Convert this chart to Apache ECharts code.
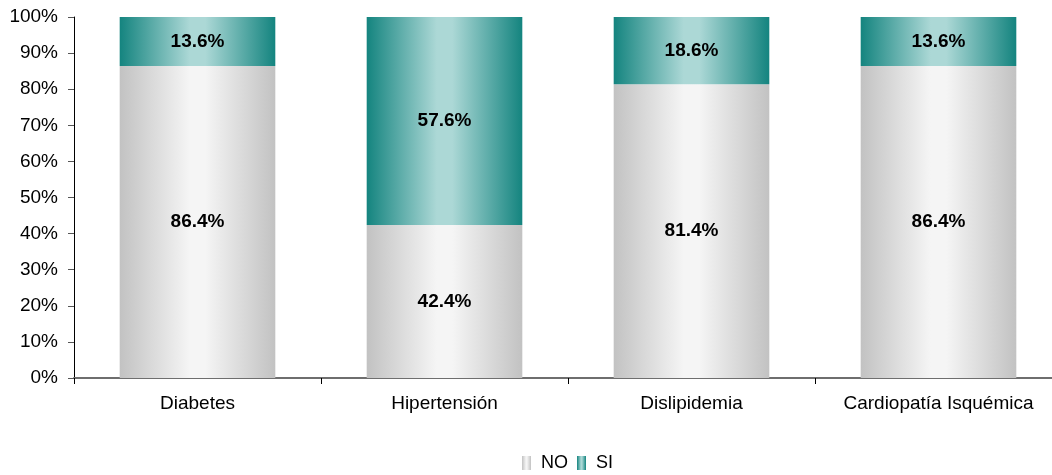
<!DOCTYPE html>
<html>
<head>
<meta charset="utf-8">
<script src="https://cdn.jsdelivr.net/npm/echarts@6/dist/echarts.min.js"></script>
<style>
  html, body { margin: 0; padding: 0; background: #ffffff; }
  #chart { width: 1052px; height: 475px; }
</style>
</head>
<body>
<div id="chart"></div>
<script>
// Share of patients with each condition (percent)
const categories = ['Diabetes', 'Hipertensión', 'Dislipidemia', 'Cardiopatía Isquémica'];
const noValues = [86.4, 42.4, 81.4, 86.4];
const siValues = [13.6, 57.6, 18.6, 13.6];
const yTicks = [0, 10, 20, 30, 40, 50, 60, 70, 80, 90, 100];

// Horizontal "cylinder" shading for each series
function shade(edge, mid) {
  return new echarts.graphic.LinearGradient(0, 0, 1, 0, [
    { offset: 0, color: edge },
    { offset: 0.45, color: mid },
    { offset: 0.55, color: mid },
    { offset: 1, color: edge }
  ]);
}

const labelStyle = {
  show: true,
  position: 'inside',
  formatter: p => p.value.toFixed(1) + '%',
  fontFamily: 'Liberation Sans, Arial, sans-serif',
  fontWeight: 'bold',
  fontSize: 19,
  color: '#000000'
};

const chart = echarts.init(document.getElementById('chart'), null, { renderer: 'canvas' });
chart.setOption({
  animation: false,
  backgroundColor: '#ffffff',
  textStyle: { fontFamily: 'Liberation Sans, Arial, sans-serif' },
  grid: { left: 74, right: -10, top: 17, bottom: 97, containLabel: false, outerBoundsMode: 'none' },
  legend: {
    top: 449,
    left: 517,
    itemWidth: 9,
    itemHeight: 14,
    itemGap: 9,
    icon: 'rect',
    textStyle: { fontSize: 18, color: '#000000', padding: [0, 0, 0, 5] },
    data: ['NO', 'SI']
  },
  xAxis: {
    type: 'category',
    data: categories,
    axisLine: { lineStyle: { color: '#6e6e6e', width: 2 } },
    axisTick: { show: true, length: 6, lineStyle: { color: '#000000' } },
    axisLabel: { fontSize: 19, color: '#000000', margin: 16, interval: 0 }
  },
  yAxis: {
    type: 'value',
    min: yTicks[0],
    max: yTicks[yTicks.length - 1],
    interval: yTicks[1] - yTicks[0],
    axisLine: { show: true, lineStyle: { color: '#000000', width: 1 } },
    axisTick: { show: true, length: 6, lineStyle: { color: '#555555' } },
    splitLine: { show: false },
    axisLabel: { fontSize: 19, color: '#000000', margin: 16, formatter: v => v + '%' }
  },
  series: [
    {
      name: 'NO',
      type: 'bar',
      stack: 'total',
      data: noValues,
      barCategoryGap: '37%',
      itemStyle: { color: shade('#c2c2c2', '#f5f5f5') },
      label: labelStyle
    },
    {
      name: 'SI',
      type: 'bar',
      stack: 'total',
      data: siValues,
      barCategoryGap: '37%',
      itemStyle: { color: shade('#14847f', '#acd8d6') },
      label: labelStyle
    }
  ]
});
</script>
</body>
</html>
